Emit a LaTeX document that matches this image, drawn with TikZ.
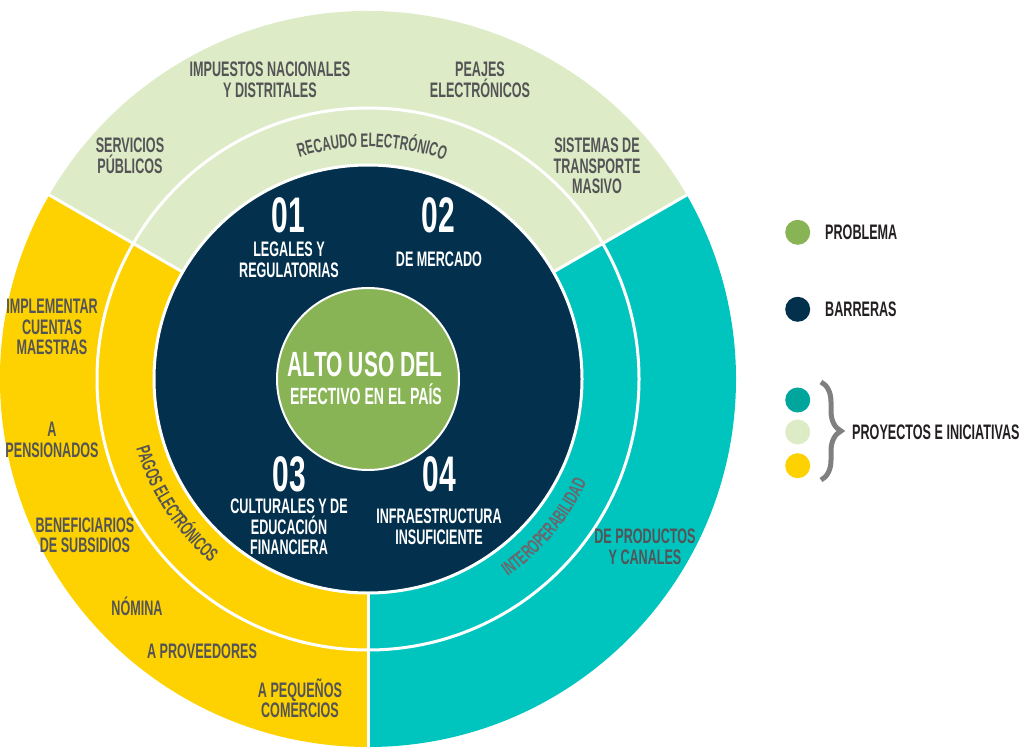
\documentclass[tikz,border=0pt]{standalone}
\usepackage{fontspec}
\newfontfamily\cond{Liberation Sans}[FakeStretch=0.6]
\usetikzlibrary{decorations.text,decorations.pathreplacing}
\definecolor{lgreen}{HTML}{DDEBC6}
\definecolor{yel}{HTML}{FDD200}
\definecolor{tealc}{HTML}{00C5BF}
\definecolor{navy}{HTML}{02304D}
\definecolor{cgreen}{HTML}{88B456}
\definecolor{txtgray}{HTML}{545456}
\definecolor{intgray}{HTML}{6E6469}
\definecolor{legteal}{HTML}{00A69C}
\definecolor{legtext}{HTML}{231F20}
\definecolor{bracegray}{HTML}{808080}
\newcommand\curvfont{\cond\bfseries\fontsize{19.5}{19.5}\selectfont}
\begin{document}
\begin{tikzpicture}[x=1pt,y=1pt,
  lbl/.style={font=\cond\bfseries\fontsize{21}{20.5}\selectfont, text=txtgray, align=center, inner sep=0pt},
  wlbl/.style={lbl, text=white},
  num/.style={font=\cond\bfseries\fontsize{50}{50}\selectfont, text=white, inner sep=0pt},
  leg/.style={font=\cond\bfseries\fontsize{21}{20}\selectfont, text=legtext, anchor=west, inner sep=0pt},
  dot/.style={circle, minimum size=25pt, inner sep=0pt},
  divider/.style={white, line width=3pt}]
\useasboundingbox (0,0) rectangle (1024,748);
\coordinate (C) at (368,369);
% sectors
\fill[lgreen] (C) -- ++(30:368) arc[start angle=30,end angle=150,radius=368] -- cycle;
\fill[yel] (C) -- ++(150:368) arc[start angle=150,end angle=270,radius=368] -- cycle;
\fill[tealc] (C) -- ++(270:368) arc[start angle=270,end angle=390,radius=368] -- cycle;
% ring separator
\draw[white, line width=3pt] (C) circle[radius=271];
% dividers
\foreach \a in {30,150,270}{
  \draw[divider, shift={(C)}] (\a:212) -- (\a:370);
}
% barriers circle
\filldraw[fill=navy, draw=white, line width=3pt] (C) circle[radius=214];
% problem circle
\filldraw[fill=cgreen, draw=white, line width=2pt] (C) circle[radius=91];

% curved texts
\path[shift={(C)}, decorate, decoration={text along path, text align=center, text color=txtgray,
  text={|\curvfont|RECAUDO ELECTRÓNICO}}] (125:232) arc[start angle=125,end angle=53,radius=232];
\path[shift={(C)}, decorate, decoration={text along path, text align=center, text color=txtgray,
  text={|\curvfont|PAGOS ELECTRÓNICOS}}] (178:242) arc[start angle=178,end angle=248,radius=242];
\path[shift={(C)}, decorate, decoration={text along path, text align=center, text color=intgray,
  text={|\curvfont|INTEROPERABILIDAD}}] (285:242) arc[start angle=285,end angle=355,radius=242];

% outer labels
\node[lbl] (serv) at (130,592) {SERVICIOS\\PÚBLICOS};
\node[lbl] (imp) at (270,668) {IMPUESTOS NACIONALES\\Y DISTRITALES};
\node[lbl] (peaj) at (480,668) {PEAJES\\ELECTRÓNICOS};
\node[lbl] (sist) at (597,582) {SISTEMAS DE\\TRANSPORTE\\MASIVO};
\node[lbl] (impl) at (52,421) {IMPLEMENTAR\\CUENTAS\\MAESTRAS};
\node[lbl] (pens) at (52,308) {A\\PENSIONADOS};
\node[lbl] (bene) at (85,212.5) {BENEFICIARIOS\\DE SUBSIDIOS};
\node[lbl] (nomi) at (137,142) {NÓMINA};
\node[lbl] (prov) at (202,97) {A PROVEEDORES};
\node[lbl] (pequ) at (300,50) {A PEQUEÑOS\\COMERCIOS};
\node[lbl] (prod) at (645,201) {DE PRODUCTOS\\Y CANALES};

% barrier labels
\node[num] (n1) at (288,533) {01};
\node[wlbl] (b1) at (289,488) {LEGALES Y\\REGULATORIAS};
\node[num] (n2) at (438,533) {02};
\node[wlbl] (b2) at (439,489) {DE MERCADO};
\node[num] (n3) at (289,274) {03};
\node[wlbl] (b3) at (289,221) {CULTURALES Y DE\\EDUCACIÓN\\FINANCIERA};
\node[num] (n4) at (439,274) {04};
\node[wlbl] (b4) at (439,221) {INFRAESTRUCTURA\\INSUFICIENTE};

% center
\node[inner sep=0pt, text=white, font=\cond\bfseries\fontsize{35}{35}\selectfont] (alto) at (365,384) {ALTO USO DEL};
\node[inner sep=0pt, text=white, font=\cond\bfseries\fontsize{23.5}{23.5}\selectfont] (efec) at (366,353.5) {EFECTIVO EN EL PAÍS};

% legend
\node[dot, fill=cgreen] (d1) at (797.7,515.7) {};
\node[leg] (l1) at (825,515.7) {PROBLEMA};
\node[dot, fill=navy] (d2) at (797.7,438.7) {};
\node[leg] (l2) at (825,438.7) {BARRERAS};
\node[dot, fill=legteal] (d3) at (797.7,348) {};
\node[dot, fill=lgreen] (d4) at (797.7,316) {};
\node[dot, fill=yel] (d5) at (797.7,282.3) {};
\coordinate (bt) at (821,366);
\coordinate (bb) at (821,268);
\draw[bracegray, line width=5pt, decorate, decoration={brace, amplitude=20pt}] (bt) -- (bb);
\node[leg] (l3) at (852,316) {PROYECTOS E INICIATIVAS};
\end{tikzpicture}
\end{document}
